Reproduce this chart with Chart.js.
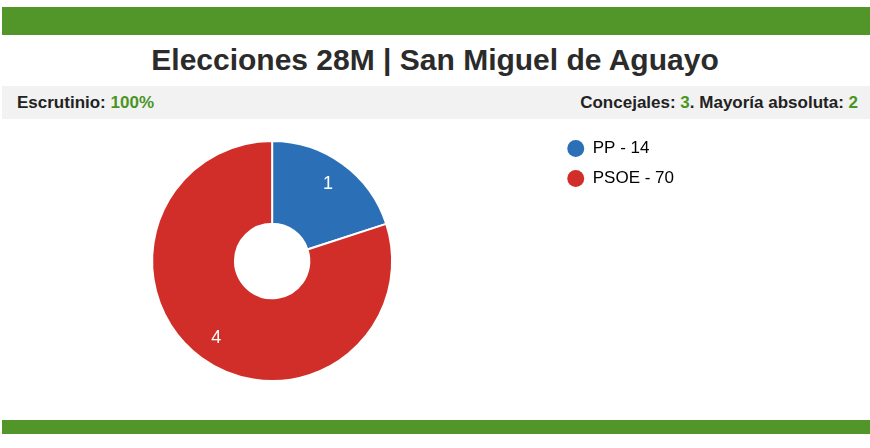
<!DOCTYPE html>
<html>
<head>
<meta charset="utf-8">
<script src="https://cdn.jsdelivr.net/npm/chart.js@4/dist/chart.umd.min.js"></script>
<style>
  html, body { margin: 0; padding: 0; background: #fff; width: 870px; height: 448px; overflow: hidden; }
  body { font-family: 'Liberation Sans', Arial, sans-serif; position: relative; }
  .bar { position: absolute; left: 2px; right: 0; background: #52962a; }
  .top { top: 7px; height: 28px; }
  .bottom { top: 420px; height: 14px; }
  h1 { position: absolute; top: 42px; left: 0; right: 0; margin: 0; text-align: center;
       font-size: 30px; font-weight: bold; color: #2b2b2b; line-height: 36px; }
  .info { position: absolute; top: 86px; left: 2px; right: 0; height: 33px; background: #f2f2f2;
          font-size: 17px; font-weight: bold; color: #222; line-height: 33px; }
  .info .l { position: absolute; left: 15px; }
  .info .r { position: absolute; right: 12px; }
  .g { color: #4a951f; }
  #wrap { position: absolute; left: -10px; top: 121px; width: 694px; height: 280px; }
</style>
</head>
<body>
<div class="bar top"></div>
<h1>Elecciones 28M | San Miguel de Aguayo</h1>
<div class="info">
  <span class="l">Escrutinio: <span class="g">100%</span></span>
  <span class="r">Concejales: <span class="g">3</span>. Mayoría absoluta: <span class="g">2</span></span>
</div>
<div id="wrap"><canvas id="chart"></canvas></div>
<div class="bar bottom"></div>
<script>
const parties = ['PP', 'PSOE']
const votes = [14, 70]
const seats = [1, 4]
const colors = ['#2b70b6', '#d12e29']

// seat numbers drawn inside each slice
const sliceLabels = {
    id: 'sliceLabels',
    afterDatasetsDraw(chart) {
        const ctx = chart.ctx
        chart.getDatasetMeta(0).data.forEach((arc, i) => {
            const mid = (arc.startAngle + arc.endAngle) / 2
            const r = arc.innerRadius + (arc.outerRadius - arc.innerRadius) * 0.7
            ctx.save()
            ctx.fillStyle = '#fff'
            ctx.font = '18px "Liberation Sans", Arial, sans-serif'
            ctx.textAlign = 'center'
            ctx.textBaseline = 'middle'
            ctx.fillText(String(seats[i]), arc.x + Math.cos(mid) * r, arc.y + Math.sin(mid) * r)
            ctx.restore()
        })
    }
}

new Chart(document.getElementById('chart'), {
    type: 'doughnut',
    data: {
        labels: parties,
        datasets: [{
            data: seats,
            backgroundColor: colors,
            borderColor: '#fff',
            borderWidth: 2,
            radius: 120,
            cutout: '31%',
        }]
    },
    options: {
        responsive: true,
        maintainAspectRatio: false,
        animation: false,
        layout: { padding: { top: 6, bottom: 6 } },
        plugins: {
            tooltip: { enabled: false },
            legend: {
                position: 'right',
                align: 'start',
                labels: {
                    usePointStyle: true,
                    pointStyle: 'circle',
                    boxHeight: 12,
                    padding: 13,
                    color: '#111',
                    font: { family: '"Liberation Sans", Arial, sans-serif', size: 17 },
                    generateLabels: (chart) => parties.map((p, i) => ({
                        text: p + ' - ' + votes[i],
                        fillStyle: colors[i],
                        strokeStyle: colors[i],
                        lineWidth: 0,
                        pointStyle: 'circle',
                        index: i,
                    })),
                }
            }
        }
    },
    plugins: [sliceLabels]
})
</script>
</body>
</html>
